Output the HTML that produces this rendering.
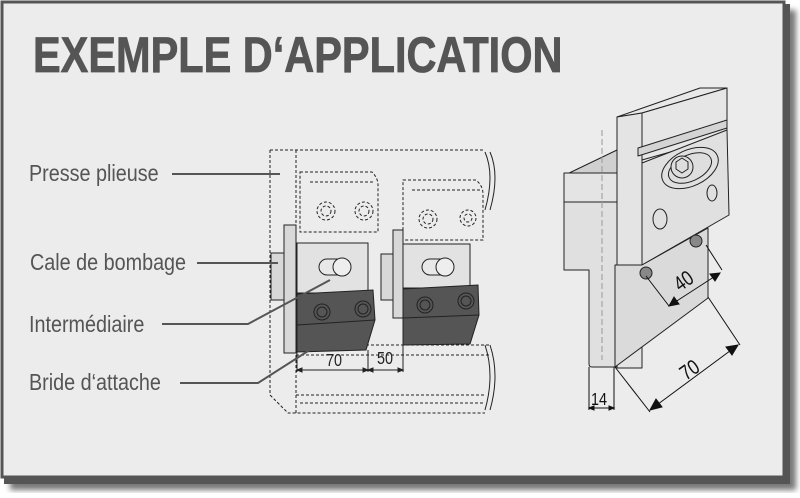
<!DOCTYPE html>
<html><head><meta charset="utf-8"><style>
html,body{margin:0;padding:0;background:#fff;}
body{width:800px;height:493px;position:relative;overflow:hidden;}
</style></head><body>
<svg width="800" height="493" viewBox="0 0 800 493" xmlns="http://www.w3.org/2000/svg" font-family="Liberation Sans, sans-serif">
<defs>
<filter id="b" x="-5%" y="-5%" width="110%" height="110%"><feGaussianBlur stdDeviation="3"/></filter>
</defs>
<rect x="10" y="10" width="786" height="480" fill="#777" filter="url(#b)"/>
<rect x="4" y="4" width="786" height="480" fill="#555"/>
<rect x="2" y="2" width="782" height="475" fill="#ececec" stroke="#555" stroke-width="3"/>
<text x="33" y="72" font-size="50" font-weight="bold" fill="#555" stroke="#555" stroke-width="0.8" transform="translate(33,0) scale(0.83,1) translate(-33,0)">EXEMPLE D‘APPLICATION</text>

<g font-size="23" fill="#555">
<text x="29" y="181" transform="translate(29,0) scale(0.86,1) translate(-29,0)">Presse plieuse</text>
<text x="30" y="270" transform="translate(30,0) scale(0.86,1) translate(-30,0)">Cale de bombage</text>
<text x="29" y="332" transform="translate(29,0) scale(0.86,1) translate(-29,0)">Intermédiaire</text>
<text x="29" y="390" transform="translate(29,0) scale(0.86,1) translate(-29,0)">Bride d‘attache</text>
</g>

<!-- left drawing -->
<g fill="none" stroke="#222" stroke-width="1" stroke-dasharray="3,2">
<path d="M270 150 H485 M270 150 V395 Q285 410 288 413 H485"/>
<path d="M296 150 V413"/>
<path d="M300 172 H372 Q378 178 378 185 V232 H300 Z M310 182 H374"/>
<path d="M403 180 H476 Q483 186 483 194 V240 H403 Z M412 190 H480"/>
<circle cx="326" cy="211" r="9"/><circle cx="326" cy="211" r="5"/>
<circle cx="364" cy="211" r="9"/><circle cx="364" cy="211" r="5"/>
<circle cx="428" cy="219" r="9"/><circle cx="428" cy="219" r="5"/>
<circle cx="468" cy="218" r="8"/><circle cx="468" cy="218" r="4"/>
<path d="M296 345 H490 M296 355 H490 M296 395 H485 M300 403 H485"/>
</g>
<path d="M485 152 Q495 175 485 210 M490 152 Q500 175 490 210 M485 345 Q495 375 485 410 M490 345 Q500 375 490 410" fill="none" stroke="#222"/>
<g stroke="#222" stroke-width="1" fill="#d8d8d8">
<rect x="271" y="253" width="13" height="47"/>
<rect x="284" y="225" width="12" height="128"/>
<rect x="381" y="254" width="12" height="46"/>
<rect x="393" y="230" width="10" height="88"/>
<rect x="297" y="243" width="71" height="50" fill="#e2e2e2"/>
<rect x="403" y="244" width="67" height="44" fill="#e2e2e2"/>
<path d="M327 259 H340 A8 8 0 1 1 340 275 H327 A8 8 0 0 1 327 259Z" fill="#e8e8e8"/>
<circle cx="342" cy="267" r="9" fill="#eee"/>
<path d="M430 259 H443 A8 8 0 1 1 443 275 H430 A8 8 0 0 1 430 259Z" fill="#e8e8e8"/>
<circle cx="445" cy="267" r="9" fill="#eee"/>
<path d="M297 294 L373 290 L375 320 L366 350 L297 352 Z" fill="#555"/>
<path d="M297 325 L375 320" fill="none"/>
<path d="M403 289 L478 285 L479 315 L470 344 L403 345 Z" fill="#555"/>
<path d="M403 318 L479 315" fill="none"/>
<g fill="#555"><circle cx="322" cy="312" r="8"/><circle cx="322" cy="312" r="5"/><circle cx="363" cy="309" r="8"/><circle cx="363" cy="309" r="5"/>
<circle cx="425" cy="305" r="8"/><circle cx="425" cy="305" r="5"/><circle cx="466" cy="301" r="8"/><circle cx="466" cy="301" r="5"/></g>
</g>
<g stroke="#222" stroke-width="1" fill="#222">
<path d="M297 352 V372 M368 350 V372 M403 345 V372 M297 370 H403"/>
<path d="M297 370 l5 -2 v4z M368 370 l-5 -2 v4z M368 370 l5 -2 v4z M403 370 l-5 -2 v4z"/>
</g>
<g font-size="18" fill="#222"><text x="326" y="366" transform="translate(326,0) scale(0.8,1) translate(-326,0)">70</text><text x="377" y="364" transform="translate(377,0) scale(0.8,1) translate(-377,0)">50</text></g>
<g stroke="#555" stroke-width="2" fill="none">
<path d="M172 174 H280"/><path d="M197 263 H278"/>
<path d="M162 324 H248 L330 280"/><path d="M180 383 H258 L330 337"/>
</g>

<!-- right drawing -->
<g stroke="#222" stroke-width="1" fill="#dedede" stroke-linejoin="round">
<path d="M565 175 L617 150 V200 H565 Z" fill="#d0d0d0"/>
<rect x="564" y="173" width="53" height="29" fill="#e4e4e4"/>
<path d="M564 202 H617 V367 H592 Q589 367 589 364 V270 H564 Z" fill="#e0e0e0"/>
<path d="M617 117 L700 88 H727 L642 113 Z" fill="#e8e8e8"/>
<path d="M617 117 L642 113 V368 H617 Z" fill="#e4e4e4"/>
<path d="M642 113 L727 88 V136 L642 160 Z" fill="#e6e6e6"/>
<path d="M638 148 L727 120 V128 L638 156 Z" fill="#d4d4d4"/>
<path d="M642 163 L727 130 L729 215 L642 265 Z" fill="#e0e0e0"/>
<path d="M642 265 L708 228 V298 L615 367 L615 265 Z" fill="#dadada"/>
<ellipse cx="690" cy="168" rx="30" ry="18" transform="rotate(-25 690 168)" fill="#e0e0e0"/>
<ellipse cx="690" cy="168" rx="23" ry="13" transform="rotate(-25 690 168)"/>
<circle cx="682" cy="167" r="11"/><path d="M676 162 l6 -4 6 4 v7 l-6 4 -6 -4z" fill="none"/>
<ellipse cx="712" cy="193" rx="5" ry="8" fill="none"/>
<ellipse cx="660" cy="219" rx="7" ry="10" fill="none"/>
<circle cx="646" cy="273" r="6" fill="#888"/><circle cx="696" cy="241" r="6" fill="#888"/>
</g>
<path d="M602 130 V360" stroke="#999" stroke-dasharray="6,3"/>
<g stroke="#111" stroke-width="1" fill="#111">
<path d="M646 276 L669 306 M706 245 L722 270 M669 306 L720 273"/>
<path d="M669 306 l10 -2 -5 -7z M720 273 l-10 1 5 7z"/>
<path d="M615 367 L650 412 M708 297 L740 345 M650 410 L738 345"/>
<path d="M650 410 l12 -3 -6 -8z M738 345 l-12 2 6 8z"/>
<path d="M589 367 V410 M614 367 V410 M589 408 H614"/>
<path d="M589 408 l5 -2 v4z M614 408 l-5 -2 v4z"/>
</g>
<g font-size="21" fill="#111">
<text x="0" y="0" transform="translate(680,292) rotate(-35) scale(0.8,1)">40</text>
<text x="0" y="0" transform="translate(686,381) rotate(-35) scale(0.8,1)">70</text>
<text x="591" y="405" font-size="18" transform="translate(591,0) scale(0.8,1) translate(-591,0)">14</text>
</g>
</svg>
</body></html>
